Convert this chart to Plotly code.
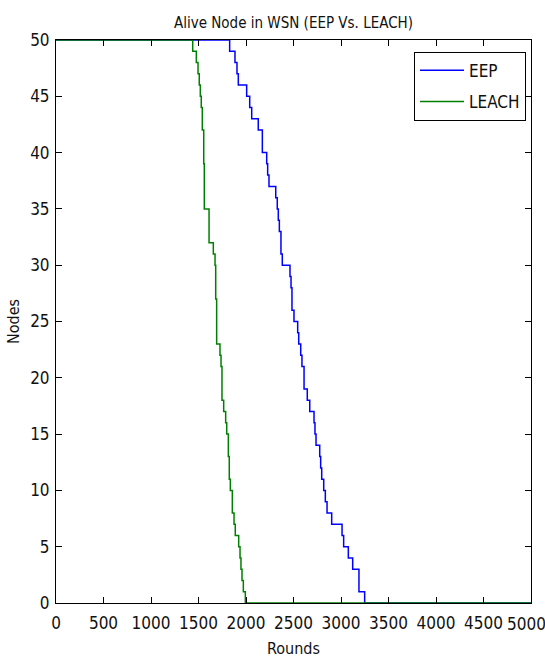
import plotly.graph_objects as go

# Step data: round at which alive-node count changes, and the new count
eep_rounds = [0, 1828, 1884, 1905, 1919, 2007, 2039, 2060, 2129, 2172, 2218, 2228, 2242,
              2313, 2329, 2340, 2351, 2368, 2382, 2463, 2474, 2484, 2505, 2544, 2555,
              2576, 2589, 2611, 2645, 2671, 2716, 2726, 2737, 2776, 2786, 2797, 2818,
              2835, 2853, 2902, 3011, 3028, 3077, 3123, 3189, 3249, 5000]
eep_nodes = [50, 49, 48, 47, 46, 45, 44, 43, 42, 40, 39, 38, 37,
             36, 35, 34, 33, 31, 30, 29, 28, 26, 25, 24, 23,
             22, 21, 19, 18, 17, 16, 15, 14, 13, 12, 11, 10,
             9, 8, 7, 6, 5, 4, 3, 1, 0, 0]

leach_rounds = [0, 1439, 1477, 1495, 1508, 1519, 1529, 1540, 1555, 1561, 1611, 1656, 1674,
                1681, 1691, 1726, 1737, 1747, 1765, 1786, 1797, 1814, 1824, 1835, 1856,
                1874, 1887, 1923, 1937, 1947, 1958, 1972, 1993, 5000]
leach_nodes = [50, 49, 48, 47, 46, 45, 44, 42, 39, 35, 32, 31, 30,
               27, 23, 22, 21, 18, 17, 16, 15, 13, 11, 10, 8,
               7, 6, 5, 4, 3, 2, 1, 0, 0]

x_ticks = list(range(0, 5001, 500))
y_ticks = list(range(0, 51, 5))

FONT = "Liberation Sans Narrow, Arial Narrow, DejaVu Sans Condensed, Liberation Sans, sans-serif"
TXT = "#111"

fig = go.Figure()
fig.add_trace(go.Scatter(x=eep_rounds, y=eep_nodes, mode="lines", name="EEP",
                         line=dict(color="rgb(0,0,255)", width=1.5, shape="hv"),
                         legendgroup="a"))
fig.add_trace(go.Scatter(x=leach_rounds, y=leach_nodes, mode="lines", name="LEACH",
                         line=dict(color="rgb(0,128,0)", width=1.5, shape="hv"),
                         legendgroup="b"))

axis_common = dict(showgrid=False, zeroline=False, showline=True, linecolor="black",
                   linewidth=1, mirror="ticks", ticks="inside", ticklen=6,
                   tickcolor="black", automargin=False,
                   tickfont=dict(family=FONT, size=17, color=TXT))

fig.update_layout(
    width=545, height=660,
    margin=dict(l=56, r=14, t=40, b=57),
    paper_bgcolor="white", plot_bgcolor="white",
    font=dict(family=FONT, size=16, color=TXT),
    title=dict(text="Alive Node in WSN (EEP Vs. LEACH)", x=0.5385, xanchor="center",
               y=0.965, yanchor="middle", font=dict(family=FONT, size=15, color=TXT)),
    xaxis=dict(range=[0, 5000], tickvals=x_ticks, ticktext=[str(v) for v in x_ticks],
               ticklabelstandoff=5,
               title=dict(text="Rounds", standoff=10, font=dict(family=FONT, size=16)),
               **axis_common),
    yaxis=dict(range=[0, 50], tickvals=y_ticks, ticktext=[str(v) for v in y_ticks],
               ticklabelstandoff=2,
               title=dict(text="Nodes", standoff=6, font=dict(family=FONT, size=16)),
               **axis_common),
    legend=dict(x=0.9895, xanchor="right", y=0.979, yanchor="top",
                bordercolor="black", borderwidth=1, bgcolor="white",
                itemwidth=44, tracegroupgap=6, font=dict(family=FONT, size=17)),
    showlegend=True,
)

# last x tick label (plotly drops it because it reaches the page edge)
fig.add_annotation(x=x_ticks[-1], xref="x", y=0, yref="paper", yanchor="top",
                   yshift=-9, xshift=-5, text=str(x_ticks[-1]), showarrow=False,
                   font=dict(family=FONT, size=17, color=TXT))

fig.write_html("out.html")
